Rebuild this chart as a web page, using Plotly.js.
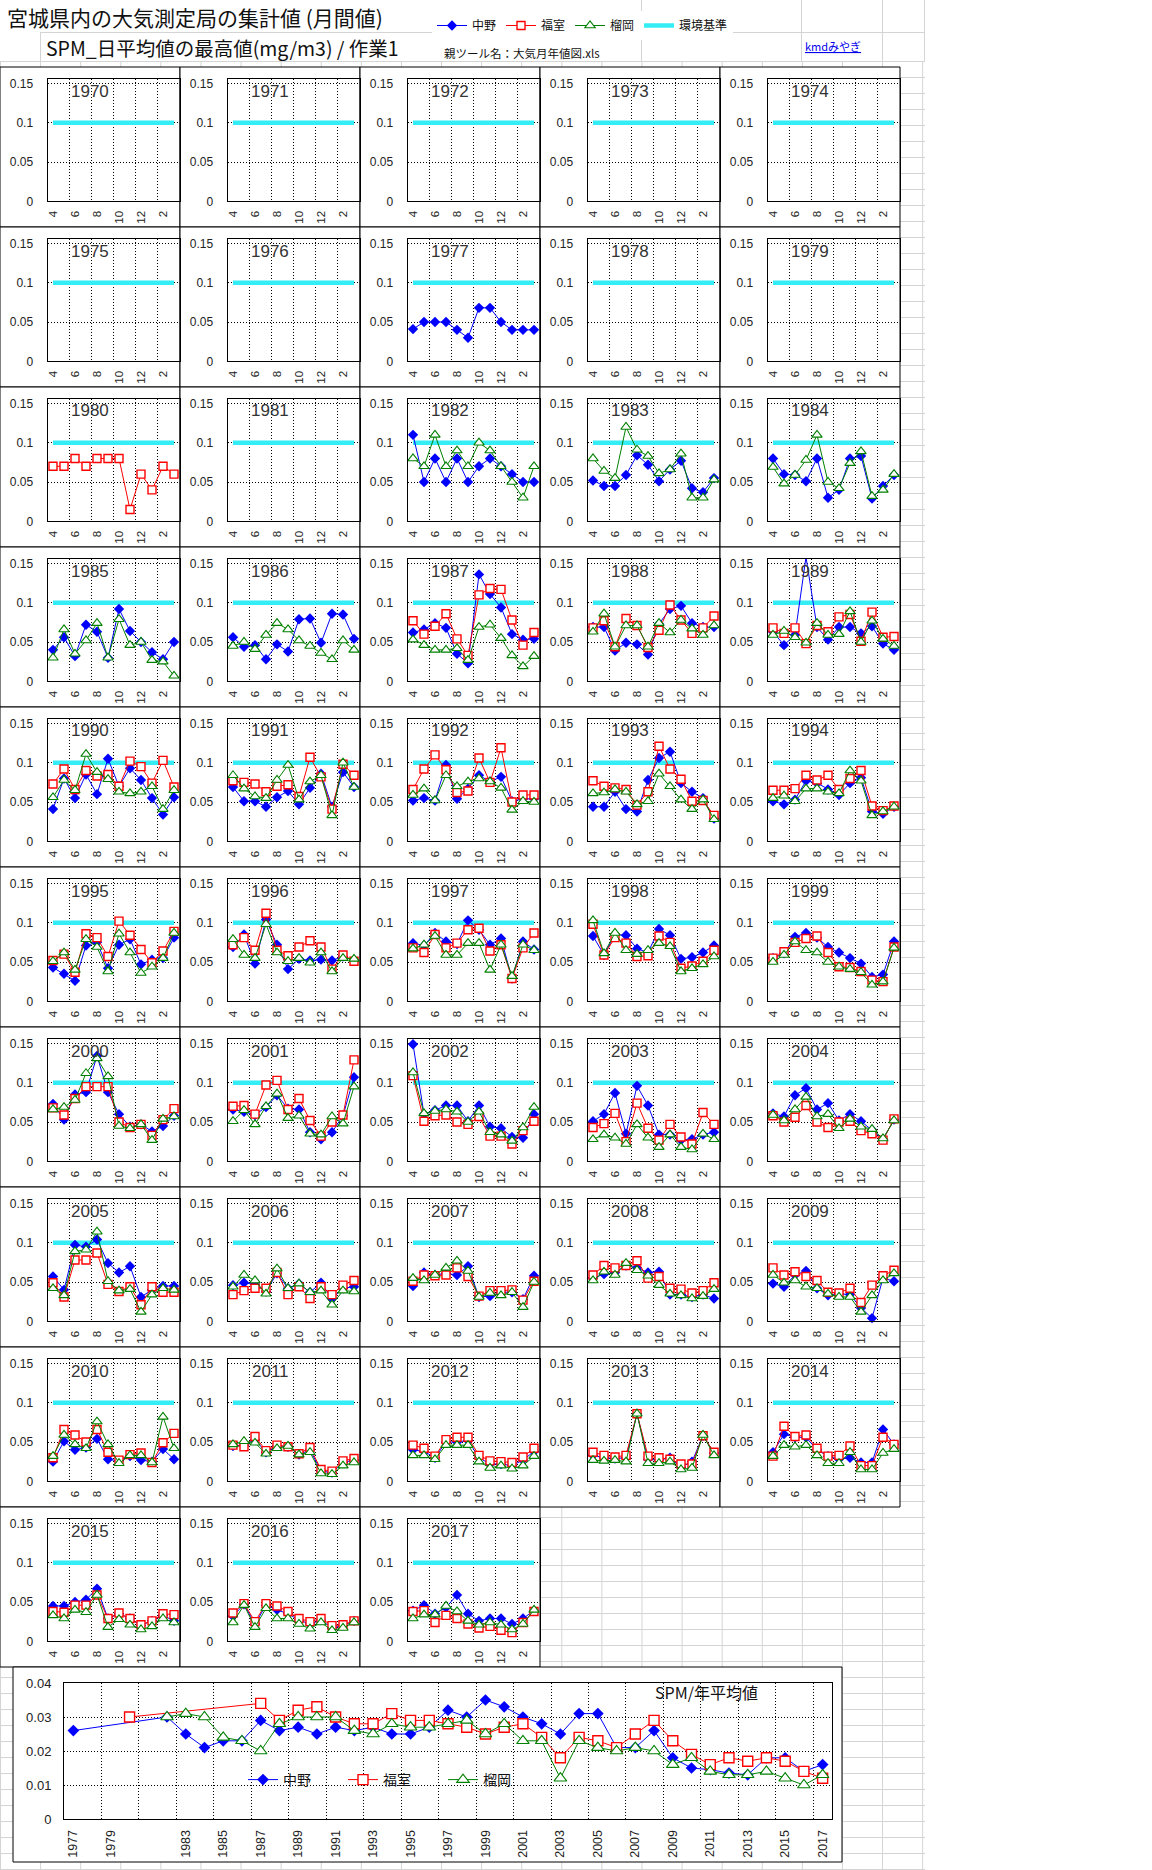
<!DOCTYPE html>
<html><head><meta charset="utf-8">
<script src="https://cdn.plot.ly/plotly-3.0.1.min.js"></script>
<style>
html,body{margin:0;padding:0;background:#fff;}
#wrap{position:relative;width:1152px;height:1870px;overflow:hidden;}
#grid{position:absolute;left:0;top:0;width:925px;height:1870px;
 background-image:linear-gradient(to right,#d4d4d4 1px,transparent 1px),linear-gradient(to bottom,#d4d4d4 1px,transparent 1px);
 background-size:40.1px 16px;background-position:0 13px;}
#head{position:absolute;left:0;top:0;width:925px;height:61px;background:#fff;}
.gl{position:absolute;background:#d4d4d4;}
#chart{position:absolute;left:0;top:0;}
</style></head>
<body><div id="wrap"><div id="grid"></div><div id="head">
<div class="gl" style="left:40px;top:32px;width:885px;height:1px"></div>
<div class="gl" style="left:0;top:61px;width:925px;height:1px"></div>
<div class="gl" style="left:40px;top:32px;width:1px;height:29px"></div>
<div class="gl" style="left:641px;top:0;width:1px;height:61px"></div>
<div class="gl" style="left:801px;top:0;width:1px;height:61px"></div>
<div class="gl" style="left:882px;top:0;width:1px;height:61px"></div>
<div class="gl" style="left:924px;top:0;width:1px;height:61px"></div>
</div><div id="chart"></div></div>
<script>
// ---------------- DATA ----------------
const MONTHS = ['4','5','6','7','8','9','10','11','12','1','2','3'];
const ENV_STD = [0.1,0.1,0.1,0.1,0.1,0.1,0.1,0.1,0.1,0.1,0.1,0.1];
const PANEL_YEARS = [1970,1971,1972,1973,1974,1975,1976,1977,1978,1979,1980,1981,1982,1983,1984,1985,1986,1987,1988,1989,
 1990,1991,1992,1993,1994,1995,1996,1997,1998,1999,2000,2001,2002,2003,2004,2005,2006,2007,2008,2009,2010,2011,2012,2013,2014,2015,2016,2017];

// 中野 (monthly max of daily mean)
const NAKANO_YEARS = [1977,1982,1983,1984,1985,1986,1987,1988,1989,1990,1991,1992,1993,1994,1995,1996,1997,1998,1999,
 2000,2001,2002,2003,2004,2005,2006,2007,2008,2009,2010,2011,2012,2013,2014,2015,2016,2017];
const NAKANO_MONTHLY = [
 [0.041,0.05,0.05,0.05,0.04,0.03,0.068,0.068,0.05,0.04,0.04,0.04],
 [0.11,0.05,0.08,0.05,0.08,0.05,0.07,0.08,0.07,0.06,0.05,0.05],
 [0.052,0.045,0.045,0.059,0.084,0.072,0.051,0.066,0.077,0.042,0.037,0.055],
 [0.08,0.06,0.059,0.051,0.08,0.03,0.04,0.08,0.083,0.029,0.045,0.059],
 [0.04,0.056,0.032,0.072,0.063,0.03,0.092,0.064,0.05,0.037,0.028,0.05],
 [0.056,0.044,0.046,0.028,0.047,0.038,0.079,0.08,0.049,0.086,0.085,0.054],
 [0.062,0.066,0.074,0.068,0.035,0.023,0.136,0.111,0.094,0.06,0.053,0.054],
 [0.069,0.069,0.039,0.049,0.047,0.034,0.073,0.092,0.096,0.074,0.069,0.069],
 [0.063,0.046,0.059,0.158,0.069,0.053,0.069,0.069,0.061,0.07,0.048,0.04],
 [0.041,0.08,0.055,0.085,0.06,0.105,0.07,0.093,0.078,0.055,0.034,0.056],
 [0.069,0.051,0.051,0.044,0.056,0.064,0.047,0.068,0.086,0.044,0.088,0.069],
 [0.052,0.055,0.052,0.097,0.054,0.067,0.084,0.076,0.082,0.051,0.054,0.054],
 [0.044,0.044,0.063,0.041,0.038,0.078,0.106,0.114,0.074,0.063,0.055,0.029],
 [0.051,0.047,0.053,0.077,0.074,0.066,0.059,0.074,0.081,0.038,0.035,0.044],
 [0.043,0.035,0.026,0.071,0.075,0.042,0.072,0.079,0.047,0.053,0.055,0.081],
 [0.069,0.085,0.048,0.104,0.072,0.041,0.054,0.052,0.053,0.052,0.057,0.052],
 [0.074,0.071,0.087,0.076,0.073,0.103,0.091,0.072,0.08,0.029,0.076,0.066],
 [0.083,0.059,0.085,0.084,0.067,0.062,0.092,0.084,0.054,0.056,0.062,0.071],
 [0.055,0.061,0.082,0.087,0.081,0.069,0.062,0.055,0.048,0.031,0.034,0.076],
 [0.073,0.053,0.085,0.088,0.134,0.088,0.06,0.044,0.047,0.038,0.045,0.058],
 [0.066,0.063,0.059,0.069,0.084,0.067,0.066,0.037,0.028,0.037,0.058,0.107],
 [0.149,0.06,0.065,0.071,0.071,0.051,0.071,0.044,0.042,0.031,0.03,0.06],
 [0.051,0.06,0.087,0.035,0.096,0.071,0.034,0.034,0.027,0.028,0.034,0.037],
 [0.061,0.057,0.084,0.093,0.066,0.074,0.052,0.06,0.051,0.04,0.028,0.053],
 [0.057,0.04,0.097,0.095,0.104,0.074,0.062,0.07,0.031,0.04,0.045,0.045],
 [0.046,0.049,0.047,0.038,0.061,0.042,0.048,0.037,0.049,0.029,0.042,0.044],
 [0.045,0.062,0.059,0.061,0.059,0.07,0.031,0.032,0.037,0.037,0.028,0.058],
 [0.055,0.06,0.062,0.071,0.068,0.062,0.063,0.034,0.034,0.031,0.034,0.029],
 [0.048,0.044,0.059,0.064,0.042,0.033,0.035,0.034,0.017,0.004,0.055,0.051],
 [0.025,0.051,0.04,0.043,0.054,0.028,0.026,0.032,0.027,0.025,0.041,0.028],
 [0.045,0.046,0.053,0.037,0.045,0.044,0.034,0.04,0.013,0.011,0.024,0.027],
 [0.04,0.038,0.03,0.05,0.05,0.052,0.03,0.022,0.022,0.02,0.027,0.038],
 [0.033,0.03,0.029,0.03,0.086,0.028,0.027,0.03,0.018,0.025,0.058,0.036],
 [0.037,0.06,0.056,0.056,0.04,0.032,0.028,0.03,0.024,0.024,0.066,0.047],
 [0.045,0.045,0.05,0.053,0.067,0.029,0.035,0.029,0.02,0.026,0.033,0.026],
 [0.032,0.047,0.022,0.046,0.04,0.035,0.027,0.022,0.027,0.017,0.02,0.026],
 [0.039,0.046,0.035,0.043,0.059,0.035,0.026,0.029,0.029,0.022,0.029,0.039]
];

// 福室
const FUKUMURO_YEARS = [1980,1987,1988,1989,1990,1991,1992,1993,1994,1995,1996,1997,1998,1999,
 2000,2001,2002,2003,2004,2005,2006,2007,2008,2009,2010,2011,2012,2013,2014,2015,2016,2017];
const FUKUMURO_MONTHLY = [
 [0.07,0.07,0.08,0.07,0.08,0.08,0.08,0.015,0.06,0.04,0.07,0.06],
 [0.077,0.06,0.07,0.086,0.054,0.033,0.11,0.118,0.117,0.078,0.046,0.062],
 [0.068,0.077,0.044,0.08,0.071,0.043,0.065,0.097,0.078,0.061,0.068,0.083],
 [0.068,0.061,0.068,0.048,0.071,0.063,0.082,0.085,0.051,0.088,0.056,0.057],
 [0.073,0.092,0.066,0.09,0.083,0.085,0.07,0.102,0.095,0.074,0.103,0.069],
 [0.077,0.075,0.073,0.063,0.07,0.072,0.057,0.107,0.082,0.041,0.098,0.084],
 [0.066,0.092,0.11,0.091,0.062,0.064,0.106,0.075,0.119,0.05,0.059,0.059],
 [0.077,0.07,0.068,0.066,0.046,0.063,0.121,0.092,0.079,0.051,0.052,0.033],
 [0.065,0.065,0.067,0.084,0.078,0.084,0.066,0.08,0.09,0.045,0.039,0.045],
 [0.052,0.06,0.037,0.086,0.081,0.057,0.102,0.084,0.066,0.049,0.064,0.089],
 [0.072,0.081,0.065,0.112,0.065,0.058,0.069,0.077,0.069,0.041,0.059,0.051],
 [0.068,0.062,0.085,0.068,0.074,0.091,0.093,0.064,0.072,0.029,0.068,0.087],
 [0.098,0.059,0.081,0.074,0.057,0.058,0.083,0.075,0.042,0.045,0.051,0.065],
 [0.055,0.063,0.075,0.08,0.083,0.062,0.044,0.043,0.038,0.027,0.025,0.069],
 [0.068,0.059,0.08,0.095,0.095,0.095,0.05,0.043,0.047,0.033,0.053,0.067],
 [0.07,0.071,0.06,0.097,0.103,0.066,0.08,0.052,0.032,0.05,0.059,0.129],
 [0.109,0.051,0.058,0.059,0.05,0.047,0.057,0.032,0.032,0.022,0.039,0.051],
 [0.043,0.048,0.061,0.025,0.074,0.042,0.027,0.047,0.031,0.022,0.062,0.047],
 [0.058,0.05,0.056,0.071,0.05,0.043,0.05,0.051,0.039,0.035,0.027,0.054],
 [0.049,0.031,0.078,0.078,0.087,0.047,0.038,0.044,0.021,0.044,0.037,0.037],
 [0.034,0.039,0.042,0.042,0.062,0.034,0.044,0.029,0.044,0.034,0.046,0.052],
 [0.051,0.059,0.058,0.059,0.068,0.057,0.032,0.039,0.039,0.04,0.027,0.051],
 [0.059,0.071,0.068,0.071,0.077,0.055,0.057,0.042,0.041,0.036,0.039,0.049],
 [0.068,0.059,0.063,0.057,0.052,0.037,0.036,0.042,0.024,0.046,0.058,0.065],
 [0.03,0.066,0.059,0.05,0.066,0.037,0.027,0.034,0.036,0.024,0.049,0.061],
 [0.046,0.044,0.057,0.039,0.046,0.044,0.035,0.043,0.015,0.013,0.026,0.029],
 [0.046,0.042,0.032,0.053,0.056,0.056,0.033,0.026,0.025,0.024,0.031,0.042],
 [0.037,0.033,0.031,0.033,0.086,0.032,0.03,0.028,0.022,0.022,0.058,0.037],
 [0.032,0.07,0.057,0.059,0.042,0.032,0.033,0.045,0.02,0.02,0.056,0.047],
 [0.038,0.037,0.046,0.046,0.059,0.029,0.036,0.029,0.021,0.026,0.035,0.034],
 [0.036,0.048,0.025,0.048,0.045,0.038,0.029,0.025,0.029,0.02,0.021,0.026],
 [0.038,0.039,0.024,0.033,0.029,0.022,0.017,0.019,0.014,0.011,0.024,0.038]
];

// 榴岡
const TSUTSUJI_YEARS = [1982,1983,1984,1985,1986,1987,1988,1989,1990,1991,1992,1993,1994,1995,1996,1997,1998,1999,
 2000,2001,2002,2003,2004,2005,2006,2007,2008,2009,2010,2011,2012,2013,2014,2015,2016,2017];
const TSUTSUJI_MONTHLY = [
 [0.08,0.07,0.11,0.07,0.09,0.07,0.1,0.09,0.07,0.05,0.03,0.07],
 [0.08,0.064,0.055,0.12,0.091,0.083,0.061,0.066,0.086,0.03,0.03,0.053],
 [0.069,0.048,0.059,0.078,0.11,0.05,0.042,0.074,0.089,0.032,0.04,0.06],
 [0.03,0.066,0.035,0.052,0.074,0.03,0.079,0.046,0.05,0.027,0.025,0.007],
 [0.045,0.05,0.041,0.059,0.074,0.066,0.052,0.045,0.036,0.028,0.052,0.04],
 [0.053,0.046,0.04,0.04,0.042,0.027,0.069,0.072,0.055,0.033,0.019,0.032],
 [0.063,0.086,0.044,0.071,0.071,0.044,0.074,0.062,0.078,0.067,0.059,0.071],
 [0.059,0.064,0.056,0.049,0.074,0.059,0.06,0.089,0.05,0.077,0.054,0.045],
 [0.056,0.078,0.065,0.111,0.088,0.079,0.063,0.061,0.063,0.07,0.041,0.065],
 [0.084,0.067,0.057,0.055,0.078,0.097,0.053,0.076,0.084,0.033,0.1,0.069],
 [0.059,0.067,0.052,0.084,0.07,0.076,0.08,0.076,0.068,0.04,0.051,0.05],
 [0.061,0.062,0.066,0.063,0.047,0.051,0.086,0.07,0.053,0.041,0.053,0.028],
 [0.055,0.058,0.051,0.067,0.067,0.063,0.061,0.09,0.077,0.033,0.038,0.044],
 [0.051,0.062,0.04,0.079,0.069,0.038,0.086,0.062,0.036,0.044,0.055,0.087],
 [0.079,0.059,0.055,0.098,0.062,0.051,0.055,0.049,0.062,0.038,0.055,0.054],
 [0.067,0.072,0.083,0.059,0.059,0.074,0.074,0.04,0.072,0.032,0.072,0.065],
 [0.103,0.061,0.087,0.065,0.06,0.065,0.074,0.07,0.038,0.042,0.047,0.057],
 [0.05,0.059,0.076,0.065,0.062,0.05,0.044,0.041,0.037,0.021,0.025,0.068],
 [0.066,0.069,0.078,0.112,0.131,0.108,0.045,0.042,0.047,0.027,0.054,0.057],
 [0.051,0.065,0.047,0.07,0.086,0.055,0.058,0.035,0.034,0.057,0.048,0.095],
 [0.113,0.061,0.064,0.066,0.063,0.05,0.063,0.037,0.034,0.026,0.043,0.069],
 [0.028,0.034,0.03,0.022,0.047,0.03,0.018,0.034,0.018,0.015,0.035,0.028],
 [0.059,0.052,0.066,0.082,0.057,0.06,0.042,0.054,0.044,0.041,0.029,0.052],
 [0.042,0.033,0.089,0.091,0.114,0.051,0.039,0.041,0.012,0.034,0.042,0.04],
 [0.044,0.059,0.052,0.035,0.067,0.042,0.048,0.037,0.039,0.021,0.039,0.038],
 [0.055,0.052,0.059,0.068,0.077,0.064,0.031,0.036,0.033,0.037,0.018,0.05],
 [0.052,0.063,0.059,0.074,0.065,0.058,0.046,0.035,0.033,0.029,0.032,0.041],
 [0.059,0.049,0.052,0.044,0.042,0.035,0.031,0.031,0.012,0.033,0.052,0.061],
 [0.032,0.059,0.047,0.042,0.076,0.047,0.023,0.033,0.033,0.024,0.082,0.042],
 [0.047,0.051,0.049,0.035,0.042,0.045,0.034,0.037,0.01,0.009,0.02,0.024],
 [0.033,0.033,0.028,0.046,0.046,0.046,0.025,0.017,0.02,0.016,0.02,0.032],
 [0.027,0.026,0.027,0.025,0.086,0.023,0.023,0.025,0.015,0.017,0.059,0.033],
 [0.032,0.046,0.044,0.046,0.033,0.023,0.023,0.037,0.015,0.015,0.036,0.041],
 [0.033,0.029,0.04,0.037,0.059,0.018,0.028,0.021,0.015,0.019,0.029,0.024],
 [0.024,0.046,0.018,0.042,0.029,0.029,0.022,0.016,0.024,0.014,0.017,0.024],
 [0.029,0.034,0.034,0.045,0.038,0.026,0.021,0.024,0.021,0.015,0.022,0.04]
];

// Annual averages (bottom chart)
const ANNUAL_YEARS = ['1977','1978','1979','1980',' ','1982','1983','1984','1985','1986','1987','1988','1989','1990',
 '1991','1992','1993','1994','1995','1996','1997','1998','1999','2000','2001','2002','2003','2004','2005','2006',
 '2007','2008','2009','2010','2011','2012','2013','2014','2015','2016','2017'];
const NAKANO_ANNUAL = [0.026,null,null,null,null,0.030,0.025,0.021,0.023,0.023,0.029,0.026,0.027,0.025,0.027,
 0.026,0.027,0.025,0.025,0.027,0.032,0.030,0.035,0.033,0.030,0.028,0.025,0.031,0.031,0.021,0.021,0.026,0.018,0.015,0.0145,
 0.0135,0.013,0.018,0.018,0.014,0.016];
const FUKUMURO_ANNUAL = [null,null,null,0.030,null,null,null,null,null,null,0.034,0.029,0.032,0.033,0.030,
 0.028,0.028,0.031,0.029,0.029,0.028,0.027,0.025,0.027,0.028,0.024,0.018,0.024,0.023,0.021,0.025,0.029,0.023,0.019,0.016,
 0.018,0.017,0.018,0.017,0.014,0.012];
const TSUTSUJI_ANNUAL = [null,null,null,null,null,0.030,0.031,0.030,0.024,0.023,0.020,0.028,0.030,0.030,0.030,
 0.026,0.025,0.028,0.027,0.027,0.028,0.029,0.025,0.028,0.023,0.023,0.012,0.023,0.021,0.020,0.021,0.020,0.016,0.018,0.014,
 0.013,0.013,0.014,0.012,0.010,0.013];

// ---------------- LAYOUT ----------------
const W = 1152, H = 1870;
const px = x => x / W, py = y => 1 - y / H;
const COLW = 180, ROWH = 160, TOP0 = 67;
const NUMF = 'Liberation Sans, Arial, sans-serif';
const JPF = 'Noto Sans CJK JP, sans-serif';
const GRID = '1px,2px';

const S_BLUE = {name:'中野', line:{color:'#0000ff', width:1}, marker:{symbol:'diamond', size:8, color:'#0000ff', line:{width:0}}, legendrank:1};
const S_RED = {name:'福室', line:{color:'#ff0000', width:1}, marker:{symbol:'square', size:8, color:'#ffffff', line:{color:'#ff0000', width:1.4}}, legendrank:2};
const S_GREEN = {name:'榴岡', line:{color:'#008000', width:1}, marker:{symbol:'triangle-up', size:9, color:'#ffffff', line:{color:'#008000', width:1.1}}, legendrank:3};

const traces = [];
const layout = {
  width: W, height: H, margin:{l:0,r:0,t:0,b:0},
  paper_bgcolor:'rgba(0,0,0,0)', plot_bgcolor:'#ffffff',
  font:{family:NUMF, color:'#222'}, hovermode:false,
  shapes:[], annotations:[],
  legend:{x:px(432), y:py(11), xanchor:'left', yanchor:'top', orientation:'h', bgcolor:'#ffffff',
          font:{family:JPF, size:12, color:'#111'}, itemclick:false, itemdoubleclick:false, tracegroupgap:0, borderwidth:0},
  legend2:{x:px(243), y:py(1764), xanchor:'left', yanchor:'top', orientation:'h', bgcolor:'rgba(0,0,0,0)',
          font:{family:JPF, size:14, color:'#111'}, itemclick:false, itemdoubleclick:false, entrywidth:55, borderwidth:0}
};

const legendShown = {blue:false, red:false, green:false, env:false};

PANEL_YEARS.forEach((yr, k) => {
  const n = k + 1, sfx = n === 1 ? '' : String(n);
  const r = Math.floor(k / 5), c = k % 5;
  const left = c * COLW, top = TOP0 + r * ROWH;
  layout.shapes.push({type:'rect', xref:'paper', yref:'paper', layer:'below',
    x0:px(left), x1:px(left + COLW), y0:py(top + ROWH), y1:py(top),
    line:{color:'#000', width:1}, fillcolor:'#ffffff'});
  layout['xaxis' + sfx] = {
    domain:[px(left + 47.5), px(left + 179.5)], anchor:'y' + sfx,
    type:'category', categoryorder:'array', categoryarray:MONTHS, range:[-0.5, 11.5],
    tickmode:'linear', tick0:0, dtick:2, tickson:'boundaries', ticks:'',
    showgrid:true, gridcolor:'#000', griddash:GRID, gridwidth:1,
    showline:true, linecolor:'#000', linewidth:1, mirror:true, zeroline:false,
    tickangle:-90, tickfont:{family:NUMF, size:11.5, color:'#222'}, ticklabelstandoff:4, fixedrange:true
  };
  layout['yaxis' + sfx] = {
    domain:[py(top + 134.3), py(top + 11.7)], anchor:'x' + sfx,
    range:[0, 0.156], tickmode:'array', tickvals:[0,0.05,0.1,0.15], ticktext:['0','0.05','0.1','0.15'],
    showgrid:true, gridcolor:'#000', griddash:GRID, gridwidth:1, zeroline:false,
    showline:true, linecolor:'#000', linewidth:1, mirror:true, ticks:'',
    tickfont:{family:NUMF, size:12, color:'#222'}, ticklabelstandoff:11, fixedrange:true
  };
  const ax = {xaxis:'x' + sfx, yaxis:'y' + sfx, cliponaxis:false};
  traces.push(Object.assign({type:'scatter', mode:'lines', x:MONTHS, y:ENV_STD, name:'環境基準',
    line:{color:'#35eef5', width:4.5}, showlegend:!legendShown.env, legend:'legend', legendrank:4}, ax));
  legendShown.env = true;
  const ni = NAKANO_YEARS.indexOf(yr);
  if (ni >= 0) { traces.push(Object.assign({type:'scatter', mode:'lines+markers', x:MONTHS, y:NAKANO_MONTHLY[ni],
      showlegend:!legendShown.blue, legend:'legend'}, S_BLUE, ax)); legendShown.blue = true; }
  const fi = FUKUMURO_YEARS.indexOf(yr);
  if (fi >= 0) { traces.push(Object.assign({type:'scatter', mode:'lines+markers', x:MONTHS, y:FUKUMURO_MONTHLY[fi],
      showlegend:!legendShown.red, legend:'legend'}, S_RED, ax)); legendShown.red = true; }
  const ti = TSUTSUJI_YEARS.indexOf(yr);
  if (ti >= 0) { traces.push(Object.assign({type:'scatter', mode:'lines+markers', x:MONTHS, y:TSUTSUJI_MONTHLY[ti],
      showlegend:!legendShown.green, legend:'legend'}, S_GREEN, ax)); legendShown.green = true; }
  layout.annotations.push({xref:'paper', yref:'paper', x:px(left + 90), y:py(top + 24), xanchor:'center', yanchor:'middle',
    text:String(yr), showarrow:false, font:{family:NUMF, size:17, color:'#333'}});
});

// bottom chart (annual averages)
const B = 49;
layout.shapes.push({type:'rect', xref:'paper', yref:'paper', layer:'below',
  x0:px(13), x1:px(842), y0:py(1862), y1:py(1667), line:{color:'#000', width:1}, fillcolor:'#ffffff'});
layout['xaxis' + B] = {
  domain:[px(64), px(832)], anchor:'y' + B, type:'category', categoryorder:'array', categoryarray:ANNUAL_YEARS,
  range:[-0.5, ANNUAL_YEARS.length - 0.5], tickmode:'linear', tick0:0, dtick:2, tickson:'boundaries', ticks:'',
  showgrid:true, gridcolor:'#000', griddash:GRID, showline:true, linecolor:'#000', mirror:true, zeroline:false,
  tickangle:-90, tickfont:{family:NUMF, size:12.5, color:'#222'}, ticklabelstandoff:5, fixedrange:true
};
layout['yaxis' + B] = {
  domain:[py(1819), py(1683)], anchor:'x' + B, range:[0, 0.04],
  tickmode:'array', tickvals:[0,0.01,0.02,0.03,0.04], ticktext:['0','0.01','0.02','0.03','0.04'],
  showgrid:true, gridcolor:'#000', griddash:GRID, zeroline:false, showline:true, linecolor:'#000', mirror:true, ticks:'',
  tickfont:{family:NUMF, size:13, color:'#222'}, ticklabelstandoff:9, fixedrange:true
};
const bax = {xaxis:'x' + B, yaxis:'y' + B, legend:'legend2', showlegend:true, connectgaps:true};
traces.push(Object.assign({type:'scatter', mode:'lines+markers', x:ANNUAL_YEARS, y:NAKANO_ANNUAL}, S_BLUE,
  {marker:{symbol:'diamond', size:9, color:'#0000ff'}}, bax));
traces.push(Object.assign({type:'scatter', mode:'lines+markers', x:ANNUAL_YEARS, y:FUKUMURO_ANNUAL}, S_RED,
  {marker:{symbol:'square', size:10, color:'#ffffff', line:{color:'#ff0000', width:1.4}}}, bax));
traces.push(Object.assign({type:'scatter', mode:'lines+markers', x:ANNUAL_YEARS, y:TSUTSUJI_ANNUAL}, S_GREEN,
  {marker:{symbol:'triangle-up', size:11, color:'#ffffff', line:{color:'#008000', width:1.1}}}, bax));

// texts
layout.annotations.push(
  {xref:'paper', yref:'paper', x:px(5), y:py(17), xanchor:'left', yanchor:'middle', showarrow:false,
   text:'宮城県内の大気測定局の集計値 (月間値)', font:{family:JPF, size:21, color:'#111'}},
  {xref:'paper', yref:'paper', x:px(44), y:py(47), xanchor:'left', yanchor:'middle', showarrow:false,
   text:'SPM_日平均値の最高値(mg/m3) / 作業1', font:{family:JPF, size:19.5, color:'#111'}},
  {xref:'paper', yref:'paper', x:px(442), y:py(53), xanchor:'left', yanchor:'middle', showarrow:false,
   text:'親ツール名：大気月年値図.xls', font:{family:JPF, size:11.5, color:'#111'}},
  {xref:'paper', yref:'paper', x:px(803), y:py(46), xanchor:'left', yanchor:'middle', showarrow:false,
   text:'<span style="text-decoration:underline">kmdみやぎ</span>', font:{family:JPF, size:11, color:'#0000ee'}},
  {xref:'paper', yref:'paper', x:px(653), y:py(1692), xanchor:'left', yanchor:'middle', showarrow:false,
   text:'SPM/年平均値', font:{family:JPF, size:16, color:'#111'}}
);

Plotly.newPlot('chart', traces, layout, {staticPlot:true, displayModeBar:false});
</script>
</body></html>
